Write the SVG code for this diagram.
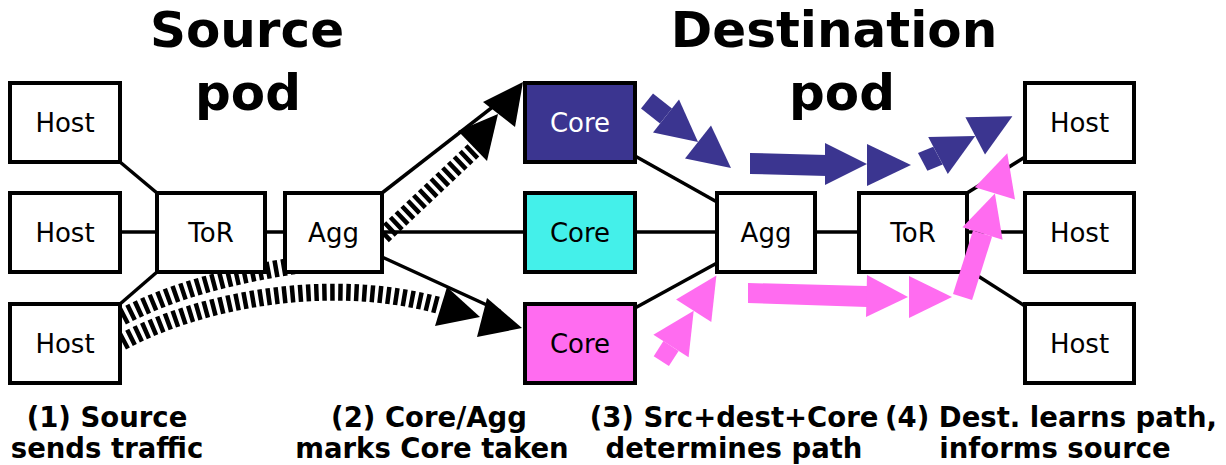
<svg xmlns="http://www.w3.org/2000/svg" width="1226" height="465" viewBox="0 0 1226 465">
  <defs>
    <style>
      .box{stroke:#000;stroke-width:4;fill:#fff}
      .core-a{fill:#3b3590}
      .core-b{fill:#44f0ea}
      .core-c{fill:#ff6cf0}
      .lbl{font-family:"DejaVu Sans",Verdana,sans-serif;font-size:26px;text-anchor:middle;fill:#000}
      .lbl-w{fill:#fff}
      .link{stroke:#000;stroke-width:3.5;fill:none}
      .trail{stroke:#000;stroke-width:17;fill:none;stroke-dasharray:4.5 3.5}
      .head{fill:#000}
      .blue{fill:#3b3590}
      .pink{fill:#ff6cf0}
      .title{font-family:"DejaVu Sans",Verdana,sans-serif;font-weight:bold;font-size:50px;text-anchor:middle}
      .step{font-family:"DejaVu Sans",Verdana,sans-serif;font-weight:bold;font-size:27.5px;text-anchor:middle}
    </style>
  </defs>
  <rect width="1226" height="465" fill="#fff"/>

  <!-- dashed traffic trails (drawn under the switches) -->
  <g id="trails">
    <path class="trail" d="M122,317 C170,292 230,274 320,262"/>
    <path class="trail" d="M122,342 C200,300 330,275 441,306"/>
    <path class="trail" d="M383,236 L476,148"/>
  </g>

  <!-- links -->
  <g id="connectors">
    <line class="link" x1="120" y1="162" x2="157" y2="193"/>
    <line class="link" x1="120" y1="232" x2="157" y2="232"/>
    <line class="link" x1="120" y1="304" x2="157" y2="272"/>
    <line class="link" x1="265" y1="232" x2="285" y2="232"/>
    <line class="link" x1="382" y1="193" x2="512" y2="92"/>
    <line class="link" x1="382" y1="232" x2="525" y2="232"/>
    <line class="link" x1="382" y1="257" x2="500" y2="311"/>
    <line class="link" x1="635" y1="156" x2="717" y2="202"/>
    <line class="link" x1="635" y1="232" x2="717" y2="232"/>
    <line class="link" x1="635" y1="308" x2="717" y2="263"/>
    <line class="link" x1="815" y1="232" x2="859" y2="232"/>
    <line class="link" x1="967" y1="193" x2="1025" y2="157"/>
    <line class="link" x1="967" y1="232" x2="1025" y2="232"/>
    <line class="link" x1="967" y1="269" x2="1025" y2="306"/>
  </g>

  <!-- source pod -->
  <g id="src-host-1"><rect class="box" x="10" y="83" width="110" height="79"/><text class="lbl" x="65" y="132">Host</text></g>
  <g id="src-host-2"><rect class="box" x="10" y="193" width="110" height="79"/><text class="lbl" x="65" y="242">Host</text></g>
  <g id="src-host-3"><rect class="box" x="10" y="304" width="110" height="79"/><text class="lbl" x="65" y="353">Host</text></g>
  <g id="src-tor"><rect class="box" x="157" y="193" width="108" height="79"/><text class="lbl" x="211" y="242">ToR</text></g>
  <g id="src-agg"><rect class="box" x="285" y="193" width="97" height="79"/><text class="lbl" x="333.5" y="242">Agg</text></g>

  <!-- core layer -->
  <g id="core-1"><rect class="box core-a" x="525" y="83" width="110" height="79"/><text class="lbl lbl-w" x="580" y="132">Core</text></g>
  <g id="core-2"><rect class="box core-b" x="525" y="193" width="110" height="79"/><text class="lbl" x="580" y="242">Core</text></g>
  <g id="core-3"><rect class="box core-c" x="525" y="304" width="110" height="79"/><text class="lbl" x="580" y="353">Core</text></g>

  <!-- destination pod -->
  <g id="dst-agg"><rect class="box" x="717" y="193" width="98" height="79"/><text class="lbl" x="766" y="242">Agg</text></g>
  <g id="dst-tor"><rect class="box" x="859" y="193" width="108" height="79"/><text class="lbl" x="913" y="242">ToR</text></g>
  <g id="dst-host-1"><rect class="box" x="1025" y="83" width="109" height="79"/><text class="lbl" x="1079.5" y="132">Host</text></g>
  <g id="dst-host-2"><rect class="box" x="1025" y="193" width="109" height="79"/><text class="lbl" x="1079.5" y="242">Host</text></g>
  <g id="dst-host-3"><rect class="box" x="1025" y="304" width="109" height="79"/><text class="lbl" x="1079.5" y="353">Host</text></g>

  <!-- black arrowheads -->
  <g id="black-heads">
    <polygon class="head" points="458,131 498,114 487,161"/>
    <polygon class="head" points="483,102 523,82 515,127"/>
    <polygon class="head" points="447,287 480,317 435,326"/>
    <polygon class="head" points="487,298 522,328 477,337"/>
  </g>

  <!-- path learned via the blue core -->
  <g id="blue-path">
    <polygon class="blue" points="641,108.5 653,93.5 672,108.5 660,123.5"/>
    <polygon class="blue" points="653,132.5 679,99.5 698,142"/>
    <polygon class="blue" points="685,158.5 711,125.5 731,168"/>
    <polygon class="blue" points="750,153 827,155 827,176 750,174"/>
    <polygon class="blue" points="825,143 867,164 825,185"/>
    <polygon class="blue" points="867,144 911,165 867,186"/>
    <polygon class="blue" points="918,153 927.4,170.8 942.7,164.4 933.3,146.7"/>
    <polygon class="blue" points="928.2,136.9 975.2,135.9 947.8,174.1"/>
    <polygon class="blue" points="965.4,117.3 1012.4,116.3 985,154.5"/>
  </g>

  <!-- path learned via the pink core -->
  <g id="pink-path">
    <polygon class="pink" points="668.9,366 653.7,356.2 663.4,341.1 678.6,350.9"/>
    <polygon class="pink" points="653.4,334.7 693.7,310.7 688.6,357.3"/>
    <polygon class="pink" points="676.1,299.4 716.4,275.4 711.3,322"/>
    <polygon class="pink" points="748,283 867,286 867,307 748,303"/>
    <polygon class="pink" points="867,275 908,297 866,317"/>
    <polygon class="pink" points="909,276 952,297 909,318"/>
    <polygon class="pink" points="953,294.1 972.1,300 992.1,236.5 973,230.6"/>
    <polygon class="pink" points="962.4,227.3 994.9,193.4 1002.6,239.7"/>
    <polygon class="pink" points="974.8,187.2 1007.3,153.3 1015,199.6"/>
  </g>

  <!-- pod titles -->
  <g id="titles">
    <text class="title" x="247" y="47">Source</text>
    <text class="title" x="248" y="110">pod</text>
    <text class="title" x="834" y="47">Destination</text>
    <text class="title" x="842" y="110">pod</text>
  </g>

  <!-- step captions -->
  <g id="steps">
    <text class="step" x="107" y="427">(1) Source</text>
    <text class="step" x="107" y="458">sends traffic</text>
    <text class="step" x="429" y="427">(2) Core/Agg</text>
    <text class="step" x="432" y="458">marks Core taken</text>
    <text class="step" x="734" y="427">(3) Src+dest+Core</text>
    <text class="step" x="734" y="458">determines path</text>
    <text class="step" x="1051" y="427">(4) Dest. learns path,</text>
    <text class="step" x="1055" y="458">informs source</text>
  </g>
</svg>
